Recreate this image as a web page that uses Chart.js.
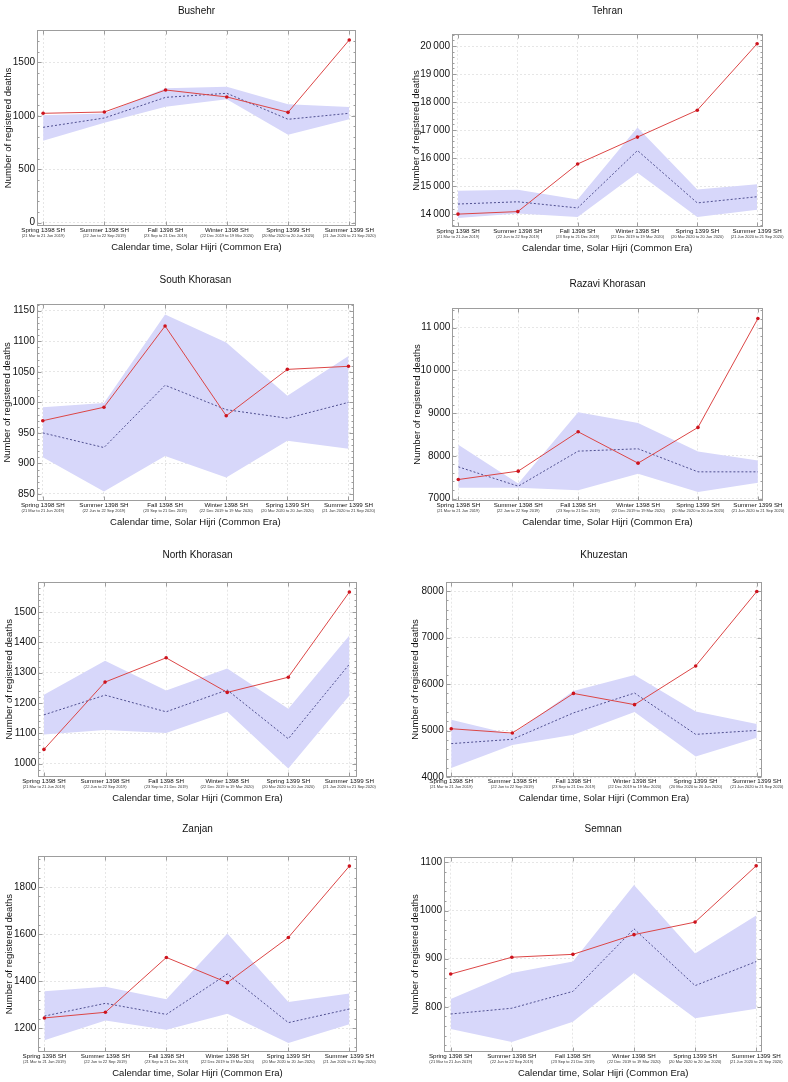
<!DOCTYPE html>
<html>
<head>
<meta charset="utf-8">
<script src="https://cdn.jsdelivr.net/npm/chart.js@4.4.1/dist/chart.umd.min.js"></script>
<style>
  body { margin: 0; background: #fff; }
  #wrap { position: relative; width: 788px; height: 1082px; }
  #wrap canvas { position: absolute; }
</style>
</head>
<body>
<div id="wrap"></div>
<script>
const seasons = ['Spring 1398 SH', 'Summer 1398 SH', 'Fall 1398 SH', 'Winter 1398 SH', 'Spring 1399 SH', 'Summer 1399 SH'];
const seasonDates = ['(21 Mar to 21 Jun 2019)', '(22 Jun to 22 Sep 2019)', '(23 Sep to 21 Dec 2019)',
  '(22 Dec 2019 to 19 Mar 2020)', '(20 Mar 2020 to 20 Jun 2020)', '(21 Jun 2020 to 21 Sep 2020)'];

// observed = red line, expected = dashed line, upper/lower = shaded band
const bushehrObserved = [1023, 1035, 1241, 1176, 1032, 1709];
const bushehrExpected = [892, 979, 1172, 1210, 967, 1023];
const bushehrUpper = [1005, 1020, 1257, 1272, 1107, 1082];
const bushehrLower = [767, 935, 1085, 1154, 823, 967];
const bushehrTicks = [0, 500, 1000, 1500];

const tehranObserved = [14000, 14090, 15790, 16750, 17710, 20080];
const tehranExpected = [14360, 14440, 14220, 16270, 14400, 14620];
const tehranUpper = [14830, 14870, 14520, 17090, 14880, 15070];
const tehranLower = [13860, 14020, 13900, 15480, 13900, 14160];
const tehranTicks = [14000, 15000, 16000, 17000, 18000, 19000, 20000];

const southKhorasanObserved = [970, 992, 1125, 978, 1054, 1059];
const southKhorasanExpected = [950, 926, 1028, 988, 974, 1000];
const southKhorasanUpper = [992, 999, 1144, 1098, 1011, 1076];
const southKhorasanLower = [910, 854, 912, 877, 937, 924];
const southKhorasanTicks = [850, 900, 950, 1000, 1050, 1100, 1150];

const razaviObserved = [7445, 7641, 8562, 7828, 8664, 11210];
const razaviExpected = [7742, 7289, 8109, 8164, 7625, 7625];
const razaviUpper = [8258, 7352, 9016, 8766, 8102, 7891];
const razaviLower = [7250, 7250, 7195, 7578, 7156, 7367];
const razaviTicks = [7000, 8000, 9000, 10000, 11000];

const northKhorasanObserved = [1047, 1269, 1349, 1235, 1285, 1566];
const northKhorasanExpected = [1161, 1226, 1171, 1243, 1082, 1328];
const northKhorasanUpper = [1227, 1339, 1241, 1314, 1181, 1423];
const northKhorasanLower = [1096, 1111, 1101, 1171, 984, 1225];
const northKhorasanTicks = [1000, 1100, 1200, 1300, 1400, 1500];

const khuzestanObserved = [5043, 4950, 5801, 5560, 6390, 7990];
const khuzestanExpected = [4723, 4816, 5383, 5809, 4922, 5007];
const khuzestanUpper = [5234, 4920, 5851, 6199, 5411, 5142];
const khuzestanLower = [4200, 4695, 4915, 5404, 4447, 4851];
const khuzestanTicks = [4000, 5000, 6000, 7000, 8000];

const zanjanObserved = [1244, 1268, 1501, 1394, 1586, 1889];
const zanjanExpected = [1252, 1306, 1259, 1431, 1224, 1282];
const zanjanUpper = [1357, 1376, 1323, 1603, 1312, 1348];
const zanjanLower = [1149, 1233, 1194, 1262, 1138, 1217];
const zanjanTicks = [1200, 1400, 1600, 1800];

const semnanObserved = [868, 903, 909, 950, 976, 1093];
const semnanExpected = [785, 797, 832, 962, 844, 894];
const semnanUpper = [816, 870, 894, 1053, 911, 990];
const semnanLower = [754, 727, 769, 870, 776, 796];
const semnanTicks = [800, 900, 1000, 1100];

const panels = [
  { name: 'Bushehr', observed: bushehrObserved, expected: bushehrExpected, upper: bushehrUpper, lower: bushehrLower, ticks: bushehrTicks },
  { name: 'Tehran', observed: tehranObserved, expected: tehranExpected, upper: tehranUpper, lower: tehranLower, ticks: tehranTicks },
  { name: 'South Khorasan', observed: southKhorasanObserved, expected: southKhorasanExpected, upper: southKhorasanUpper, lower: southKhorasanLower, ticks: southKhorasanTicks },
  { name: 'Razavi Khorasan', observed: razaviObserved, expected: razaviExpected, upper: razaviUpper, lower: razaviLower, ticks: razaviTicks },
  { name: 'North Khorasan', observed: northKhorasanObserved, expected: northKhorasanExpected, upper: northKhorasanUpper, lower: northKhorasanLower, ticks: northKhorasanTicks },
  { name: 'Khuzestan', observed: khuzestanObserved, expected: khuzestanExpected, upper: khuzestanUpper, lower: khuzestanLower, ticks: khuzestanTicks },
  { name: 'Zanjan', observed: zanjanObserved, expected: zanjanExpected, upper: zanjanUpper, lower: zanjanLower, ticks: zanjanTicks },
  { name: 'Semnan', observed: semnanObserved, expected: semnanExpected, upper: semnanUpper, lower: semnanLower, ticks: semnanTicks }
];

// cell position + plot box (L,R,T,B inside the cell) + axis ranges
const layouts = [
  { x: 0,   y: 0,   h: 270, L: 37,   R: 356,   T: 30,   B: 226,   yMin: -31,   yMax: 1802,  xMin: -0.1,  xMax: 5.11, titleY: 11,   yTitleX: 8.3 },
  { x: 394, y: 0,   h: 270, L: 58,   R: 368.5, T: 34,   B: 227,   yMin: 13540, yMax: 20430, xMin: -0.1,  xMax: 5.09, titleY: 11,   yTitleX: 22 },
  { x: 0,   y: 270, h: 270, L: 36.7, R: 354,   T: 34,   B: 230.7, yMin: 839,   yMax: 1161,  xMin: -0.1,  xMax: 5.09, titleY: 10.5, yTitleX: 7.5 },
  { x: 394, y: 270, h: 270, L: 58.3, R: 368.7, T: 38.3, B: 230.7, yMin: 6950,  yMax: 11450, xMin: -0.1,  xMax: 5.08, titleY: 14.5, yTitleX: 23.3 },
  { x: 0,   y: 540, h: 270, L: 38.3, R: 356.7, T: 41.7, B: 236.7, yMin: 957,   yMax: 1600,  xMin: -0.093, xMax: 5.12, titleY: 15.5, yTitleX: 9 },
  { x: 394, y: 540, h: 270, L: 51.7, R: 368.3, T: 41.7, B: 237.3, yMin: 4000,  yMax: 8200,  xMin: -0.09, xMax: 5.09, titleY: 15.5, yTitleX: 21.7 },
  { x: 0,   y: 810, h: 272, L: 38.3, R: 356.7, T: 46,   B: 242.3, yMin: 1098,  yMax: 1932,  xMin: -0.1,  xMax: 5.12, titleY: 19,   yTitleX: 9 },
  { x: 394, y: 810, h: 272, L: 50,   R: 368.3, T: 46.7, B: 242,   yMin: 706,   yMax: 1112,  xMin: -0.11, xMax: 5.1,  titleY: 19,   yTitleX: 21.7 }
];

const FONT = '"Liberation Sans", Arial, sans-serif';
Chart.defaults.font.family = FONT;

const toPts = arr => arr.map((v, i) => ({ x: i, y: v }));
const fmt = v => v >= 10000 ? String(v).replace(/\B(?=(\d{3})+(?!\d))/g, '\u2009') : String(v);

// box around the plot with small tick marks, like the original frame
const framePlugin = {
  id: 'frame',
  beforeDatasetsDraw(chart) {
    const { ctx, chartArea: a, scales: { x, y } } = chart;
    const l = Math.round(a.left) + 0.5, r = Math.round(a.right) - 0.5;
    const t = Math.round(a.top) + 0.5, b = Math.round(a.bottom) - 0.5;
    ctx.save();
    ctx.strokeStyle = '#9d9d9d';
    ctx.lineWidth = 1;
    ctx.strokeRect(l, t, r - l, b - t);
    ctx.beginPath();
    const step = y.ticks[1].value - y.ticks[0].value;
    const minor = step / 5;
    const start = Math.ceil(y.min / minor);
    for (let k = start; k * minor <= y.max; k++) {
      const py = Math.round(y.getPixelForValue(k * minor)) + 0.5;
      const len = k % 5 === 0 ? 4 : 2;
      ctx.moveTo(l, py); ctx.lineTo(l + len, py);
      ctx.moveTo(r, py); ctx.lineTo(r - len, py);
    }
    x.ticks.forEach(tk => {
      const px = Math.round(x.getPixelForValue(tk.value)) + 0.5;
      ctx.moveTo(px, b); ctx.lineTo(px, b - 4);
      ctx.moveTo(px, t); ctx.lineTo(px, t + 4);
    });
    ctx.stroke();
    ctx.restore();
  }
};

const titlePlugin = {
  id: 'panelTitle',
  afterDraw(chart, args, opts) {
    const { ctx, chartArea: a } = chart;
    ctx.save();
    ctx.font = '10px ' + FONT;
    ctx.fillStyle = '#111';
    ctx.textAlign = 'center';
    ctx.textBaseline = 'middle';
    ctx.fillText(opts.text, (a.left + a.right) / 2, opts.y);
    ctx.restore();
  }
};

const wrap = document.getElementById('wrap');

panels.forEach((p, i) => {
  const lay = layouts[i];
  const cv = document.createElement('canvas');
  cv.width = 394;
  cv.height = lay.h;
  cv.style.left = lay.x + 'px';
  cv.style.top = lay.y + 'px';
  wrap.appendChild(cv);

  const periodTicks = s => { s.ticks = seasons.map((_, k) => ({ value: k })); };

  new Chart(cv, {
    type: 'line',
    data: {
      datasets: [
        { label: 'Observed', data: toPts(p.observed), borderColor: 'rgb(220,70,70)', borderWidth: 1,
          pointRadius: 1.8, pointBackgroundColor: 'rgb(205,20,30)', pointBorderWidth: 0, fill: false, tension: 0 },
        { label: 'Expected', data: toPts(p.expected), borderColor: 'rgb(80,80,145)', borderWidth: 1,
          borderDash: [2, 2], pointRadius: 0, fill: false, tension: 0 },
        { label: 'Upper', data: toPts(p.upper), borderWidth: 0, borderColor: 'rgba(0,0,0,0)', pointRadius: 0,
          backgroundColor: 'rgb(215,215,250)', fill: '+1', tension: 0 },
        { label: 'Lower', data: toPts(p.lower), borderWidth: 0, borderColor: 'rgba(0,0,0,0)', pointRadius: 0,
          fill: false, tension: 0 }
      ]
    },
    options: {
      responsive: false,
      animation: false,
      events: [],
      layout: { padding: { left: 0, right: 394 - lay.R, top: lay.T, bottom: lay.h - lay.B - 27.2 } },
      plugins: {
        legend: { display: false },
        tooltip: { enabled: false },
        panelTitle: { text: p.name, y: lay.titleY }
      },
      scales: {
        x: {
          type: 'linear', position: 'bottom', min: lay.xMin, max: lay.xMax,
          afterBuildTicks: periodTicks,
          afterFit: s => { s.height = 7; },
          grid: { color: '#e6e6e6', drawTicks: false, borderDash: [2, 2] },
          border: { display: false, dash: [2, 2] },
          ticks: { padding: 0.5, autoSkip: false, maxRotation: 0, color: '#111',
            font: { size: 6.2 }, callback: v => seasons[v] }
        },
        x2: {
          type: 'linear', position: 'bottom', min: lay.xMin, max: lay.xMax,
          afterBuildTicks: periodTicks,
          afterFit: s => { s.height = 20.2; },
          grid: { display: false, drawTicks: false },
          border: { display: false },
          ticks: { padding: 0.5, autoSkip: false, maxRotation: 0, color: '#333',
            font: { size: 4 }, callback: v => seasonDates[v] },
          title: { display: true, text: 'Calendar time, Solar Hijri (Common Era)', color: '#111',
            font: { size: 9.5 }, padding: { top: 0, bottom: 0 } }
        },
        y: {
          type: 'linear', position: 'left', min: lay.yMin, max: lay.yMax,
          afterBuildTicks: s => { s.ticks = p.ticks.map(v => ({ value: v })); },
          afterFit: s => { s.width = lay.L; },
          grid: { color: '#e6e6e6', drawTicks: false, borderDash: [2, 2] },
          border: { display: false, dash: [2, 2] },
          ticks: { padding: 2, color: '#111', font: { size: 10 }, callback: v => fmt(v) },
          title: { display: true, text: 'Number of registered deaths', color: '#111',
            font: { size: 9.5 }, padding: { top: lay.yTitleX - 5.7, bottom: 0 } }
        }
      }
    },
    plugins: [framePlugin, titlePlugin]
  });
});
</script>
</body>
</html>
